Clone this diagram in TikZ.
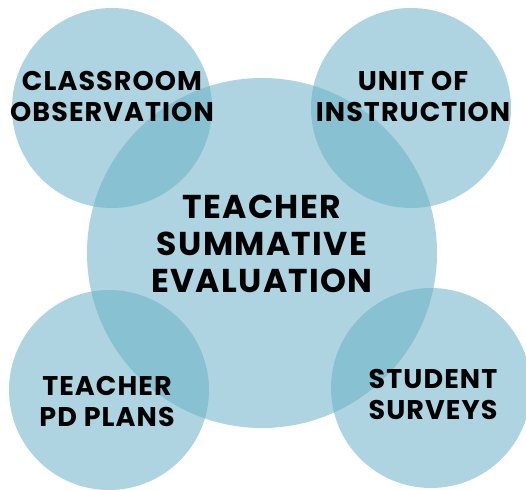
\documentclass[tikz,border=0pt]{standalone}
\usepackage{fontspec}
\setmainfont{Poppins}
\newfontfamily\labelfont{Poppins}[LetterSpace=4]
\usepackage{tikz}

\definecolor{bubbleblue}{RGB}{106,177,199}

\begin{document}
\begin{tikzpicture}[x=1pt,y=-1pt,
    bubble/.style={circle, fill=bubbleblue, fill opacity=0.55, inner sep=0pt},
    smalltext/.style={align=center, font=\labelfont\bfseries\fontsize{27}{31}\selectfont},
    bigtext/.style={align=center, font=\labelfont\bfseries\fontsize{33}{37}\selectfont}
]
\useasboundingbox (0,0) rectangle (526,489);
% Circles
\node[bubble, minimum size=350pt] (eval) at (262,253){};
\node[bubble, minimum size=200pt] (obs) at (112,108){};
\node[bubble, minimum size=200pt] (unit) at (411,108){};
\node[bubble, minimum size=200pt] (pd) at (109,390){};
\node[bubble, minimum size=200pt] (survey) at (431,388){};
% Labels
\node[bigtext] (evallabel) at (262,244){TEACHER\\SUMMATIVE\\EVALUATION};
\node[smalltext] (obslabel) at (112,96){CLASSROOM\\OBSERVATION};
\node[smalltext] (unitlabel) at (413,96){UNIT OF\\INSTRUCTION};
\node[smalltext] (pdlabel) at (107,402){TEACHER\\PD PLANS};
\node[smalltext] (surveylabel) at (433,394){STUDENT\\SURVEYS};
\end{tikzpicture}
\end{document}
